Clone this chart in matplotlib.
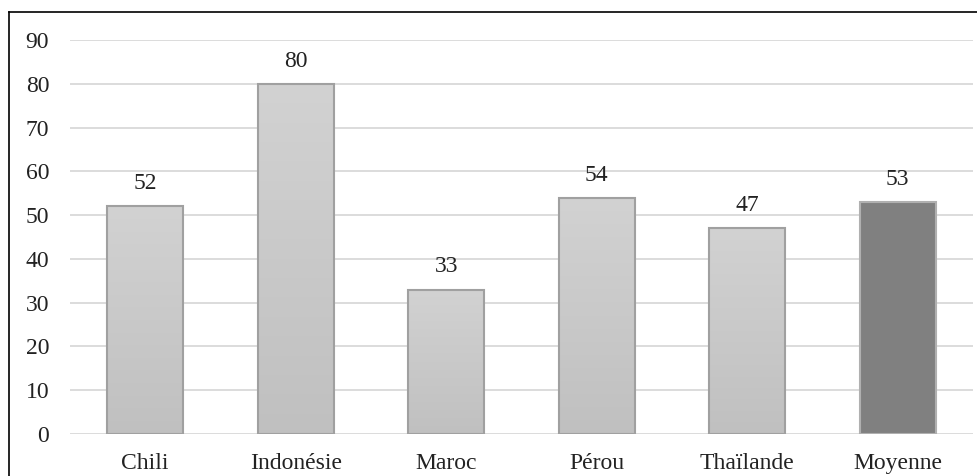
import numpy as np
import matplotlib
matplotlib.use("Agg")
import matplotlib.pyplot as plt
from matplotlib.patches import Rectangle

categories = ["Chili", "Indonésie", "Maroc", "Pérou", "Thaïlande", "Moyenne"]
values = [52, 80, 33, 54, 47, 53]
yticks = [0, 10, 20, 30, 40, 50, 60, 70, 80, 90]

plt.rcParams["font.family"] = ["Liberation Serif", "DejaVu Serif"]

W, H = 977, 476
fig = plt.figure(figsize=(W / 100, H / 100), dpi=100)
ax = fig.add_axes([70 / W, (H - 434) / H, (973 - 70) / W, (434 - 40) / H])

# outer frame (top and left edges visible)
fig.add_artist(plt.Line2D([9 / W, 9 / W], [0, (H - 12) / H], color="black", lw=1.2,
                          transform=fig.transFigure))
fig.add_artist(plt.Line2D([9 / W, 1], [(H - 12) / H, (H - 12) / H], color="black", lw=1.2,
                          transform=fig.transFigure))

x = np.arange(len(categories))
width = 0.505
FS = 17

for yv in yticks:
    ax.axhline(yv, color="#d9d9d9", lw=1.3, zorder=0)

grad = np.linspace(0, 1, 256).reshape(-1, 1)
light = matplotlib.colors.LinearSegmentedColormap.from_list("light", ["#c0c0c0", "#d2d2d2"])
for i, (xi, v) in enumerate(zip(x, values)):
    left = xi - width / 2
    if categories[i] == "Moyenne":
        rect = Rectangle((left, 0), width, v, facecolor="#808080", edgecolor="#b0b0b0",
                         lw=1.5, zorder=2)
        ax.add_patch(rect)
    else:
        rect = Rectangle((left, 0), width, v, facecolor="none", edgecolor="#a0a0a0",
                         lw=1.5, zorder=3)
        im = ax.imshow(grad, cmap=light, extent=[left, left + width, 0, v], origin="lower",
                       aspect="auto", zorder=2)
        ax.add_patch(rect)
        im.set_clip_path(rect)
    ax.text(xi, v + 3.9, str(v), ha="center", va="baseline", fontsize=FS, color="#222222")

ax.set_aspect("auto")
ax.set_xlim(-0.5, len(categories) - 0.5)
ax.set_ylim(0, 90)
ax.set_yticks(yticks)
ax.set_yticklabels([str(t) for t in yticks], fontsize=FS, color="#222222")
ax.set_xticks(x)
ax.set_xticklabels(categories, fontsize=FS, color="#222222")
ax.tick_params(axis="both", length=0)
ax.tick_params(axis="y", pad=15)
ax.tick_params(axis="x", pad=14)
for s in ax.spines.values():
    s.set_visible(False)

fig.savefig("out.png", dpi=100)
